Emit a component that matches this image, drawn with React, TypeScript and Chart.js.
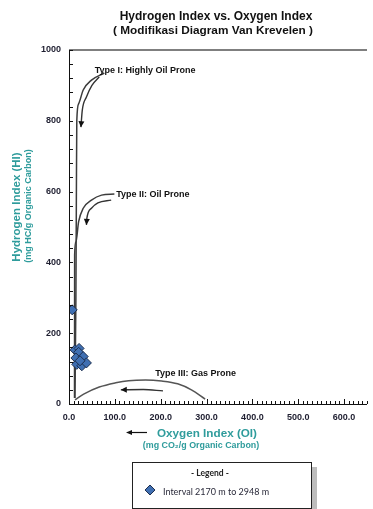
import React, { useEffect, useRef } from 'react';
import { Chart, registerables } from 'chart.js';

Chart.register(...registerables);

const W = 373;
const H = 509;

// Sample data (OI, HI)
const sampleOI = [7, 13, 22, 21, 15, 31, 17, 28, 38, 24];
const sampleHI = [266, 153, 157, 146, 130, 134, 112, 108, 116, 122];

// Evolution pathways
const typeIOI = [13, 15, 16, 17, 21, 31, 49, 77];
const typeIHI = [17, 294, 560, 800, 848, 887, 915, 935];
const typeIIOI = [12, 12.3, 15, 21, 31, 49, 71, 99];
const typeIIHI = [17, 421, 458, 515, 553, 576, 590, 593];
const typeIIIOI = [13, 32, 66, 102, 130, 167, 202, 237, 267, 297];
const typeIIIHI = [12, 28, 48, 60, 66, 68, 65, 57, 40, 14];

// Arrows (first point = arrow tip)
const arrowIOI = [26, 29, 38, 50, 66];
const arrowIHI = [782, 830, 867, 900, 924];
const arrowIIOI = [38, 39, 49, 63, 92];
const arrowIIHI = [506, 525, 553, 568, 576];
const arrowIIIOI = [113, 162, 205];
const arrowIIIHI = [40, 41, 37];

// Axes
const xMin = 0;
const xMax = 650;
const xStep = 100;
const xMinorStep = 10;
const yMin = 0;
const yMax = 1000;
const yStep = 200;
const yMinorStep = 40;

// Texts
const titleLines = ['Hydrogen Index vs. Oxygen Index', '( Modifikasi Diagram Van Krevelen )'];
const yTitle = ['Hydrogen Index (HI)', '(mg HC/g Organic Carbon)'];
const xTitle = ['Oxygen Index (OI)', '(mg CO\u2082/g Organic Carbon)'];
const typeLabels = ['Type I: Highly Oil Prone', 'Type II: Oil Prone', 'Type III: Gas Prone'];
const typeLabelOI = [56, 103, 188];
const typeLabelHI = [942, 593, 85];
const legendTitle = '- Legend -';
const legendLabel = 'Interval 2170 m to 2948 m';

const TEAL = '#2f9c9c';
const CURVE = '#3c3c3c';
const PT_FILL = '#3f6fb2';
const PT_BORDER = '#1d2f4f';

const zip = (xs: number[], ys: number[]) => xs.map((v, i) => ({ x: v, y: ys[i] }));

function arrowHead(ctx: CanvasRenderingContext2D, tx: number, ty: number, fx: number, fy: number, len = 6, half = 3) {
  const dx = tx - fx;
  const dy = ty - fy;
  const d = Math.hypot(dx, dy) || 1;
  const ux = dx / d;
  const uy = dy / d;
  const bx = tx - ux * len;
  const by = ty - uy * len;
  ctx.beginPath();
  ctx.moveTo(tx, ty);
  ctx.lineTo(bx - uy * half, by + ux * half);
  ctx.lineTo(bx + uy * half, by - ux * half);
  ctx.closePath();
  ctx.fill();
}

function diamond(ctx: CanvasRenderingContext2D, cx: number, cy: number, r: number) {
  ctx.beginPath();
  ctx.moveTo(cx, cy - r);
  ctx.lineTo(cx + r, cy);
  ctx.lineTo(cx, cy + r);
  ctx.lineTo(cx - r, cy);
  ctx.closePath();
  ctx.fillStyle = PT_FILL;
  ctx.fill();
  ctx.strokeStyle = PT_BORDER;
  ctx.lineWidth = 1;
  ctx.stroke();
}

const overlay = {
  id: 'overlay',
  afterDatasetsDraw(chart: any) {
    const ctx: CanvasRenderingContext2D = chart.ctx;
    ctx.save();
    ctx.fillStyle = '#111';
    chart.data.datasets.forEach((ds: any, i: number) => {
      if (!ds.isArrow) return;
      const meta = chart.getDatasetMeta(i);
      const p0 = meta.data[0];
      const p1 = meta.data[1];
      let fx = p1.x;
      let fy = p1.y;
      if (p0.cp2x !== undefined && Math.hypot(p0.cp2x - p0.x, p0.cp2y - p0.y) > 0.5) {
        fx = p0.cp2x;
        fy = p0.cp2y;
      }
      arrowHead(ctx, p0.x, p0.y, fx, fy);
    });
    ctx.restore();
  },
  afterDraw(chart: any) {
    const ctx: CanvasRenderingContext2D = chart.ctx;
    const a = chart.chartArea;
    const xs = chart.scales.x;
    const ys = chart.scales.y;
    ctx.save();

    // Axes lines
    ctx.strokeStyle = '#555';
    ctx.lineWidth = 1.5;
    ctx.beginPath();
    ctx.moveTo(a.left, a.top);
    ctx.lineTo(a.right, a.top);
    ctx.stroke();
    ctx.strokeStyle = '#111';
    ctx.lineWidth = 1;
    ctx.beginPath();
    ctx.moveTo(a.left + 0.5, a.top);
    ctx.lineTo(a.left + 0.5, a.bottom);
    ctx.moveTo(a.left, a.bottom + 0.5);
    ctx.lineTo(a.right, a.bottom + 0.5);
    ctx.stroke();

    // Minor/major ticks
    ctx.beginPath();
    for (let v = yMin; v <= yMax; v += yMinorStep) {
      const py = Math.round(ys.getPixelForValue(v)) + 0.5;
      ctx.moveTo(a.left, py);
      ctx.lineTo(a.left + 4, py);
    }
    for (let v = xMin; v <= xMax; v += xMinorStep) {
      const px = Math.round(xs.getPixelForValue(v)) + 0.5;
      ctx.moveTo(px, a.bottom);
      ctx.lineTo(px, a.bottom - (v % xStep === 0 ? 5 : 3));
    }
    ctx.stroke();

    // Title
    ctx.fillStyle = '#111';
    ctx.textAlign = 'center';
    ctx.textBaseline = 'middle';
    ctx.font = 'bold 12px "Liberation Sans", Arial, sans-serif';
    ctx.fillText(titleLines[0], 216, 17);
    ctx.font = 'bold 11.8px "Liberation Sans", Arial, sans-serif';
    ctx.fillText(titleLines[1], 213, 31);

    // Y title
    ctx.fillStyle = TEAL;
    ctx.save();
    ctx.translate(17, 207);
    ctx.rotate(-Math.PI / 2);
    ctx.font = 'bold 11.5px "Liberation Sans", Arial, sans-serif';
    ctx.fillText(yTitle[0], 0, 0);
    ctx.restore();
    ctx.save();
    ctx.translate(29, 206);
    ctx.rotate(-Math.PI / 2);
    ctx.font = 'bold 9px "Liberation Sans", Arial, sans-serif';
    ctx.fillText(yTitle[1], 0, 0);
    ctx.restore();

    // X title
    ctx.font = 'bold 11.7px "Liberation Sans", Arial, sans-serif';
    ctx.fillText(xTitle[0], 207, 434);
    ctx.font = 'bold 8.9px "Liberation Sans", Arial, sans-serif';
    ctx.fillText(xTitle[1], 201, 446);

    // X title arrow
    ctx.strokeStyle = '#111';
    ctx.fillStyle = '#111';
    ctx.lineWidth = 1.2;
    ctx.beginPath();
    ctx.moveTo(147, 432.5);
    ctx.lineTo(131, 432.5);
    ctx.stroke();
    arrowHead(ctx, 126, 432.5, 147, 432.5, 6, 2.5);

    // Type labels
    ctx.fillStyle = '#111';
    ctx.textAlign = 'left';
    ctx.font = 'bold 9px "Liberation Sans", Arial, sans-serif';
    typeLabels.forEach((t, i) => {
      ctx.fillText(t, xs.getPixelForValue(typeLabelOI[i]), ys.getPixelForValue(typeLabelHI[i]));
    });

    // Legend box
    const lx = 132;
    const ly = 462;
    const lw = 179;
    const lh = 46;
    ctx.fillStyle = '#bdbdbd';
    ctx.fillRect(lx + lw, ly + 5, 6, lh);
    ctx.fillStyle = '#fff';
    ctx.fillRect(lx, ly, lw, lh);
    ctx.strokeStyle = '#222';
    ctx.lineWidth = 1;
    ctx.strokeRect(lx + 0.5, ly + 0.5, lw, lh);
    ctx.fillStyle = '#222';
    ctx.textAlign = 'center';
    ctx.font = 'bold 8.5px Lato, "Open Sans", sans-serif';
    ctx.fillText(legendTitle, 210, 473);
    diamond(ctx, 150, 490, 5);
    ctx.fillStyle = '#2a2a3a';
    ctx.textAlign = 'left';
    ctx.font = '9px Lato, "Open Sans", sans-serif';
    ctx.fillText(legendLabel, 163, 492);

    ctx.restore();
  },
};

export default function App() {
  const ref = useRef<HTMLCanvasElement | null>(null);

  useEffect(() => {
    if (!ref.current) return;
    const curve = (xs: number[], ys: number[], extra: any = {}) => ({
      data: zip(xs, ys),
      showLine: true,
      borderColor: CURVE,
      borderWidth: 1.5,
      pointRadius: 0,
      pointHoverRadius: 0,
      cubicInterpolationMode: 'monotone',
      fill: false,
      ...extra,
    });
    const chart = new Chart(ref.current, {
      type: 'scatter',
      data: {
        datasets: [
          {
            data: zip(sampleOI, sampleHI),
            pointStyle: 'rectRot',
            pointRadius: 5,
            backgroundColor: PT_FILL,
            borderColor: PT_BORDER,
            borderWidth: 1,
            showLine: false,
          } as any,
          curve(typeIOI, typeIHI),
          curve(typeIIOI, typeIIHI),
          curve(typeIIIOI, typeIIIHI, { borderColor: '#555' }),
          curve(arrowIOI, arrowIHI, { isArrow: true, borderColor: '#333', borderWidth: 1.4 }),
          curve(arrowIIOI, arrowIIHI, { isArrow: true, borderColor: '#333', borderWidth: 1.4 }),
          curve(arrowIIIOI, arrowIIIHI, { isArrow: true, borderColor: '#333', borderWidth: 1.4 }),
        ],
      },
      options: {
        animation: false,
        responsive: false,
        devicePixelRatio: 1,
        layout: { padding: { top: 50, left: 0, right: 0, bottom: 0 } },
        plugins: {
          legend: { display: false },
          tooltip: { enabled: false },
          title: { display: false },
        },
        scales: {
          x: {
            type: 'linear',
            min: xMin,
            max: xMax,
            grid: { display: false, drawTicks: false },
            border: { display: false },
            afterFit: (s: any) => {
              s.height = 105;
            },
            ticks: {
              stepSize: xStep,
              includeBounds: false,
              autoSkip: false,
              maxRotation: 0,
              padding: 8,
              color: '#1e1e30',
              font: { family: '"Liberation Sans", Arial, sans-serif', size: 9, weight: 'bold' },
              callback: (v: any) => (Number(v) % xStep === 0 ? Number(v).toFixed(1) : ''),
            },
          },
          y: {
            type: 'linear',
            min: yMin,
            max: yMax,
            grid: { display: false, drawTicks: false },
            border: { display: false },
            afterFit: (s: any) => {
              s.width = 69;
            },
            ticks: {
              stepSize: yStep,
              autoSkip: false,
              padding: 8,
              color: '#1e1e30',
              font: { family: '"Liberation Sans", Arial, sans-serif', size: 9, weight: 'bold' },
              callback: (v: any) => String(v),
            },
          },
        },
      } as any,
      plugins: [overlay as any],
    });
    return () => chart.destroy();
  }, []);

  return (
    <div style={{ position: 'absolute', left: 0, top: 0, width: W, height: H, background: '#fff' }}>
      <canvas ref={ref} width={W} height={H} style={{ display: 'block' }} />
    </div>
  );
}
